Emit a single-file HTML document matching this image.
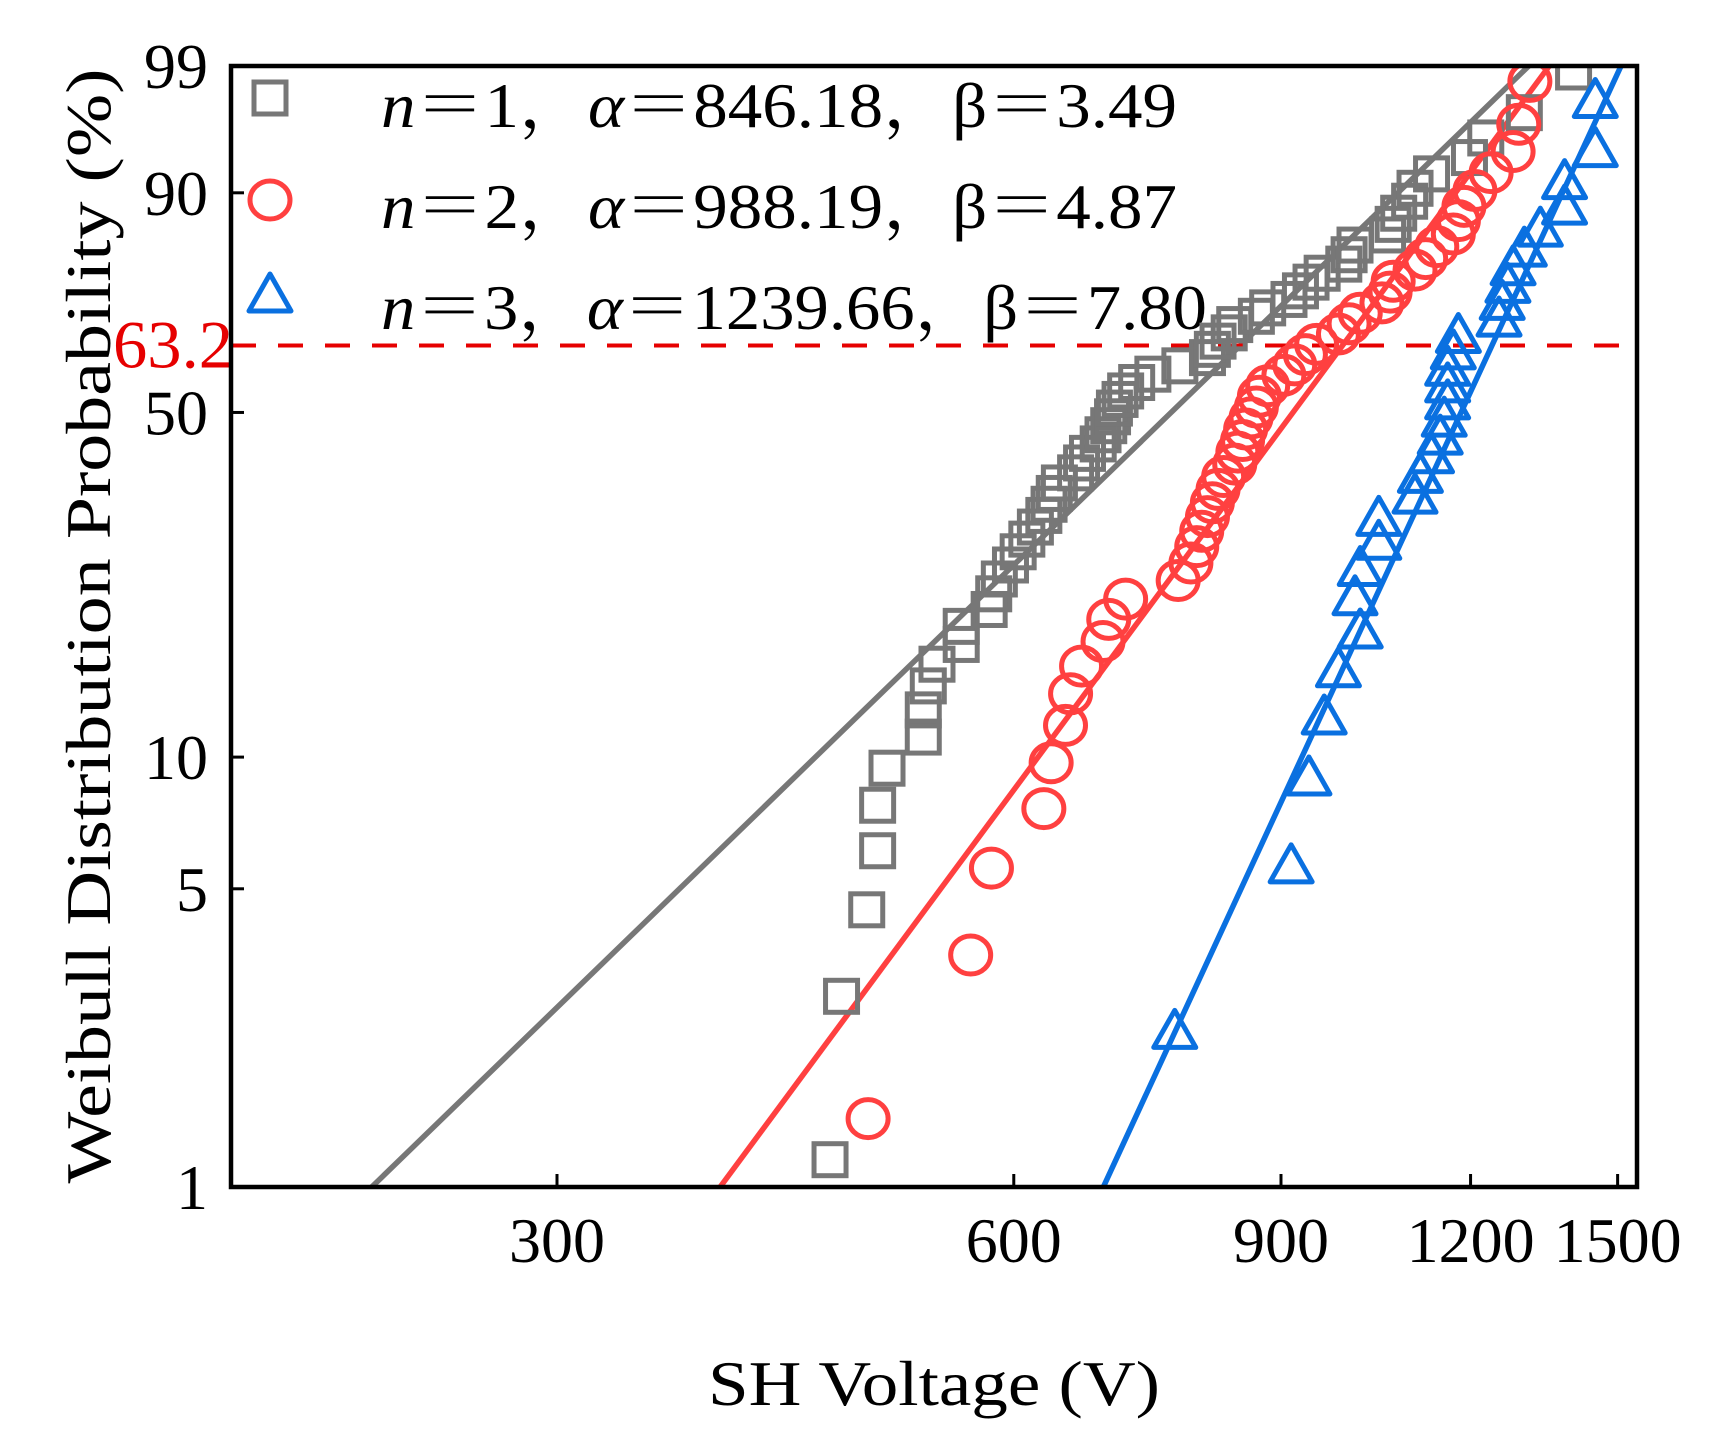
<!DOCTYPE html>
<html><head><meta charset="utf-8">
<style>
html,body{margin:0;padding:0;background:#fff;}
svg{display:block;}
text{font-family:"Liberation Serif","Noto Serif CJK SC",serif;fill:#000;}
</style></head>
<body>
<svg id="chart" width="1710" height="1440" viewBox="0 0 1710 1440" xmlns="http://www.w3.org/2000/svg">
<defs><clipPath id="plotclip"><rect x="231" y="66" width="1406" height="1121"/></clipPath></defs>
<g id="grid"></g>
<g id="marks" clip-path="url(#plotclip)"></g>
</svg>
<script>
// ---- data ----
const xTicks = [300, 600, 900, 1200, 1500];
const xTickLabels = ["300", "600", "900", "1200", "1500"];
const yTicks = [1, 5, 10, 50, 90, 99];
const yTickLabels = ["1", "5", "10", "50", "90", "99"];
const refProb = 63.2;

const params1 = [846.18, 3.49];
const params2 = [988.19, 4.87];
const params3 = [1239.66, 7.80];

const volt1 = [454,462,480,488,488,495,523,523,527,534,554,554,578,582,587,597,604,612,620,628,633,638,643,659,665,671,682,687,693,697,699,705,711,723,741,772,805,811,818,832,839,867,882,911,927,942,958,990,998,1007,1058,1067,1076,1094,1103,1131,1198,1228,1302,1403];
const prob1 = [1.16,2.81,4.47,6.12,7.78,9.44,11.09,12.75,14.40,16.06,17.72,19.37,21.03,22.68,24.34,26.00,27.65,29.31,30.96,32.62,34.27,35.93,37.59,39.24,40.90,42.55,44.21,45.86,47.52,49.18,50.83,52.49,54.14,55.80,57.45,59.11,60.76,62.42,64.07,65.73,67.39,69.04,70.70,72.35,74.01,75.66,77.32,78.97,80.63,82.28,83.94,85.60,87.25,88.91,90.56,92.22,93.87,95.53,97.18,98.84];

const volt2 = [481,562,580,628,635,649,654,665,687,693,711,770,785,792,798,805,811,818,825,839,843,849,853,860,867,871,882,904,919,934,950,982,998,1015,1049,1062,1067,1103,1121,1140,1169,1178,1188,1208,1238,1280,1291,1313];
const prob2 = [1.45,3.51,5.58,7.64,9.71,11.78,13.84,15.91,17.98,20.04,22.11,24.17,26.24,28.31,30.37,32.44,34.50,36.57,38.64,40.70,42.77,44.83,46.90,48.97,51.03,53.10,55.17,57.23,59.30,61.36,63.43,65.50,67.56,69.63,71.69,73.76,75.83,77.89,79.96,82.02,84.09,86.16,88.22,90.29,92.36,94.42,96.49,98.55];

const volt3 = [766,914,939,961,982,1015,1007,1015,1044,1044,1103,1112,1131,1146,1153,1159,1159,1159,1169,1178,1253,1259,1270,1280,1302,1334,1384,1384,1450,1450];
const prob3 = [2.30,5.59,8.88,12.17,15.46,18.75,22.04,25.33,28.62,31.91,35.20,38.49,41.78,45.07,48.36,51.64,54.93,58.22,61.51,64.80,68.09,71.38,74.67,77.96,81.25,84.54,87.83,91.12,94.41,97.70];

// ---- axes ----
const L=231, R=1637, T=66, B=1187;
const X0=557, XK=659;
function xs(v){ return X0 + XK*Math.log(v/300); }
const YMIN=Math.log(-Math.log(0.99)), YMAX=Math.log(-Math.log(0.01));
function ys(p){ const w=Math.log(-Math.log(1-p/100)); return B - (w-YMIN)/(YMAX-YMIN)*(B-T); }
const NS='http://www.w3.org/2000/svg';
function mk(tag, attrs, parent){ const e=document.createElementNS(NS,tag); for(const k in attrs) e.setAttribute(k,attrs[k]); parent.appendChild(e); return e; }
const svg=document.getElementById('chart');
const grid=document.getElementById('grid');
const marks=document.getElementById('marks');

xTicks.forEach((v,i)=>{
  const x=xs(v);
  const t=mk('line',{x1:x,x2:x,y1:B,y2:B-13,stroke:'#000','stroke-width':3},grid);
  
  
  const lb=mk('text',{x:x,y:1262,'text-anchor':'middle','font-size':64},grid);
  lb.textContent=xTickLabels[i];
  
  
});
yTicks.forEach((p,i)=>{
  const y=ys(p);
  const t=mk('line',{x1:L,x2:L+13,y1:y,y2:y,stroke:'#000','stroke-width':3},grid);
  
  
  const lb=mk('text',{x:208,y:y+22,'text-anchor':'end','font-size':64},grid);
  lb.textContent=yTickLabels[i];
  
  
});
const refLbl=mk('text',{x:233,y:ys(refProb)+22,'text-anchor':'end','font-size':68,textLength:120,lengthAdjust:'spacingAndGlyphs',style:'fill:#e60000'},grid);
refLbl.textContent=String(refProb);



function fitLine(par, color, name){
  const a=par[0], b=par[1];
  const vA=a*Math.exp(YMIN/b), vB=a*Math.exp(YMAX/b);
  const ln=mk('line',{x1:xs(vA),y1:B,x2:xs(vB),y2:T,stroke:color,'stroke-width':5.5},marks);
  
  
}
fitLine(params1,'#777777','fit-line-n1');
fitLine(params2,'#ff4040','fit-line-n2');
fitLine(params3,'#0a70e0','fit-line-n3');

const ref=mk('line',{x1:L,x2:R,y1:ys(refProb),y2:ys(refProb),stroke:'#e60000','stroke-width':4,'stroke-dasharray':'25 22'},marks);



function square(x,y,parent,color){ return mk('rect',{x:x-16,y:y-16,width:32,height:32,fill:'none',stroke:color,'stroke-width':5},parent); }
function circle(x,y,parent,color){ return mk('ellipse',{cx:x,cy:y,rx:20,ry:19,fill:'none',stroke:color,'stroke-width':5},parent); }
function tri(x,y,parent,color){ return mk('polygon',{points:(x)+','+(y-23)+' '+(x+21)+','+(y+14)+' '+(x-21)+','+(y+14),fill:'none',stroke:color,'stroke-width':5,'stroke-linejoin':'round'},parent); }

const legend=mk('g',{},grid);


const legRows=[
  {y:98, base:127, n:'1', a:'846.18', b:'3.49', len:796, shape:square, color:'#777777'},
  {y:200, base:228, n:'2', a:'988.19', b:'4.87', len:796, shape:circle, color:'#ff4040'},
  {y:297, base:329, n:'3', a:'1239.66', b:'7.80', len:826, shape:tri, color:'#0a70e0'}
];
legRows.forEach((r,i)=>{
  const m=r.shape(270,r.y,legend,r.color);
  
  
  const t=mk('text',{x:381,y:r.base,'font-size':64,textLength:r.len,lengthAdjust:'spacingAndGlyphs'},legend);
  t.innerHTML='<tspan font-style="italic">n</tspan>＝'+r.n+'，<tspan font-style="italic">α</tspan>＝'+r.a+'，β＝'+r.b;
  
  
});
svg.appendChild(marks);

function series(volts, probs, shape, color, name){
  const g=mk('g',{},marks);
  
  
  volts.forEach((v,i)=>{
    const e=shape(xs(v), ys(probs[i]), g, color);
    
    
  });
}
series(volt1, prob1, square, '#777777', 'series-n1');
series(volt2, prob2, circle, '#ff4040', 'series-n2');
series(volt3, prob3, tri, '#0a70e0', 'series-n3');

const frame=mk('rect',{x:L,y:T,width:R-L,height:B-T,fill:'none',stroke:'#000','stroke-width':4.5},svg);



const xt=mk('text',{x:934,y:1405,'text-anchor':'middle','font-size':64,textLength:452,lengthAdjust:'spacingAndGlyphs'},svg);
xt.textContent='SH Voltage (V)';


const yt=mk('text',{x:0,y:0,'text-anchor':'middle','font-size':64,textLength:1115,lengthAdjust:'spacingAndGlyphs',transform:'translate(110,626) rotate(-90)'},svg);
yt.textContent='Weibull Distribution Probability (%)';


</script>
</body></html>
